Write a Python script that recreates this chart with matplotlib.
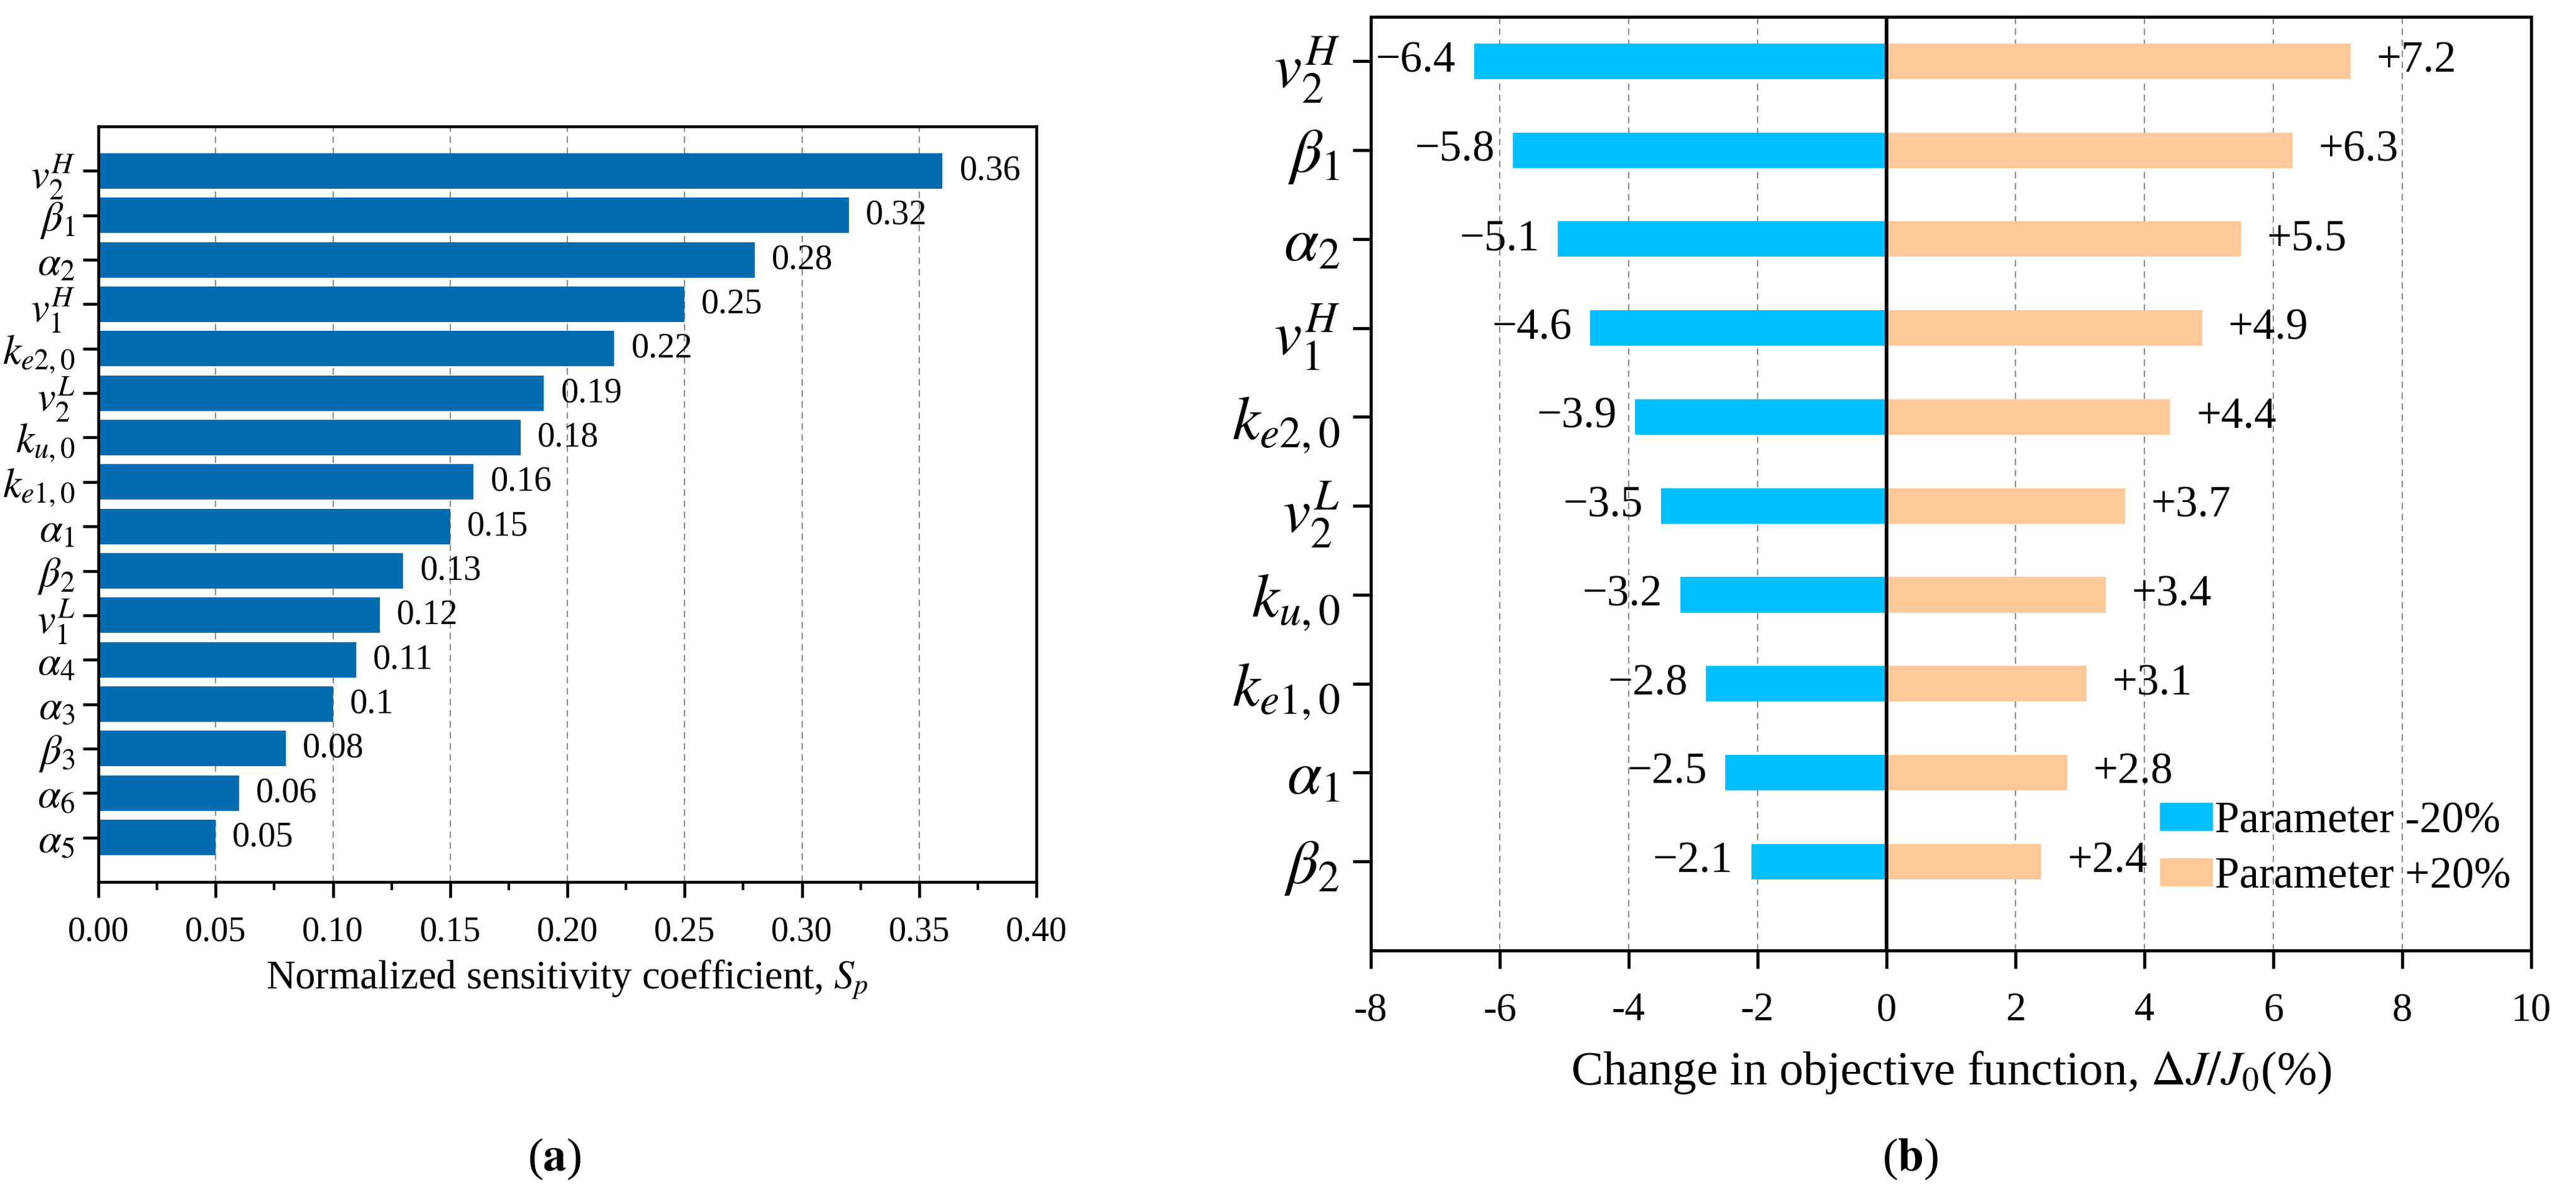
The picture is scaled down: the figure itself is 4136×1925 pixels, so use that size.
import matplotlib
matplotlib.use("Agg")
import matplotlib.pyplot as plt
from matplotlib.ticker import MultipleLocator

plt.rcParams['font.family'] = ['Liberation Serif', 'DejaVu Serif']
plt.rcParams['mathtext.fontset'] = 'stix'
plt.rcParams['axes.unicode_minus'] = False

# (a) normalized sensitivity coefficients
params_a = [r'$v_2^H$', r'$\beta_1$', r'$\alpha_2$', r'$v_1^H$', r'$k_{e2,0}$',
            r'$v_2^L$', r'$k_{u,0}$', r'$k_{e1,0}$', r'$\alpha_1$', r'$\beta_2$',
            r'$v_1^L$', r'$\alpha_4$', r'$\alpha_3$', r'$\beta_3$', r'$\alpha_6$',
            r'$\alpha_5$']
sens = [0.36, 0.32, 0.28, 0.25, 0.22, 0.19, 0.18, 0.16, 0.15, 0.13,
        0.12, 0.11, 0.10, 0.08, 0.06, 0.05]

# (b) change in objective function for +-20 % parameter change
params_b = [r'$v_2^H$', r'$\beta_1$', r'$\alpha_2$', r'$v_1^H$', r'$k_{e2,0}$',
            r'$v_2^L$', r'$k_{u,0}$', r'$k_{e1,0}$', r'$\alpha_1$', r'$\beta_2$']
minus20 = [-6.4, -5.8, -5.1, -4.6, -3.9, -3.5, -3.2, -2.8, -2.5, -2.1]
plus20 = [7.2, 6.3, 5.5, 4.9, 4.4, 3.7, 3.4, 3.1, 2.8, 2.4]

W, H = 4136, 1925
fig = plt.figure(figsize=(W / 300, H / 300), dpi=300)

grid_kw = dict(color='#8c8c8c', linestyle=(0, (5, 3.5)), linewidth=0.5)

# ---------- panel a ----------
ax1 = fig.add_axes([158 / W, 1 - 1416 / H, (1664 - 158) / W, (1416 - 203) / H])
ya = list(range(len(sens)))
ax1.barh(ya, sens, height=0.8, color='#036CB0', zorder=2)
ax1.set_ylim(len(sens), -1)
ax1.set_xlim(0, 0.40)
ax1.set_yticks(ya)
ax1.set_yticklabels(params_a, fontsize=16)
ax1.xaxis.set_major_locator(MultipleLocator(0.05))
ax1.xaxis.set_minor_locator(MultipleLocator(0.025))
ax1.set_xticklabels([f'{t:.2f}' for t in ax1.get_xticks()], fontsize=13.5)
ax1.tick_params(axis='x', which='major', direction='out', length=6, width=1.1, pad=7)
ax1.tick_params(axis='x', which='minor', direction='out', length=3, width=1.0)
ax1.tick_params(axis='y', direction='out', length=6, width=1.1, pad=3)
ax1.grid(axis='x', zorder=0, **grid_kw)
ax1.set_axisbelow(True)
for s in ax1.spines.values():
    s.set_linewidth(1.1)
for y, v in zip(ya, sens):
    ax1.annotate(f'{v:g}', (v, y), xytext=(6.5, 0), textcoords='offset points',
                 va='center', ha='left', fontsize=13.5)
ax1.set_xlabel(r'Normalized sensitivity coefficient, $S_p$', fontsize=15.5, labelpad=4)

# ---------- panel b ----------
ax2 = fig.add_axes([2201 / W, 1 - 1526 / H, (4064 - 2201) / W, (1526 - 27) / H])
yb = list(range(len(params_b)))
ax2.barh(yb, minus20, height=0.4, color='#00BFFF', label='Parameter -20%', zorder=2)
ax2.barh(yb, plus20, height=0.4, color='#FFC999', label='Parameter +20%', zorder=2)
ax2.axvline(0, color='black', linewidth=1.4, zorder=3)
ax2.set_ylim(len(params_b), -0.5)
ax2.set_xlim(-8, 10)
ax2.xaxis.set_major_locator(MultipleLocator(2))
ax2.set_yticks(yb)
ax2.set_yticklabels(params_b, fontsize=24)
ax2.tick_params(axis='x', labelsize=15.5, direction='out', length=7, width=1.2, pad=9)
ax2.tick_params(axis='y', direction='out', length=7, width=1.2, pad=5)
ax2.grid(axis='x', zorder=0, **grid_kw)
ax2.set_axisbelow(True)
for s in ax2.spines.values():
    s.set_linewidth(1.2)
for y, v in zip(yb, minus20):
    ax2.annotate(f'\u2212{abs(v):.1f}', (v, y), xytext=(-7, 0), textcoords='offset points',
                 va='center', ha='right', fontsize=17)
for y, v in zip(yb, plus20):
    ax2.annotate(f'+{v:.1f}', (v, y), xytext=(10, 0), textcoords='offset points',
                 va='center', ha='left', fontsize=17)
ax2.set_xlabel(r'Change in objective function, $\Delta J/J_0$(%)', fontsize=18.5, labelpad=8)
ax2.legend(loc='upper left', bbox_to_anchor=(0.68, 0.16), frameon=False, fontsize=17,
           borderaxespad=0, borderpad=0, handlelength=1.2, handleheight=0.6,
           handletextpad=0.05, labelspacing=0.35)

fig.text(890 / W, 1 - 1861 / H, r'($\mathbf{a}$)', ha='center', va='center', fontsize=18)
fig.text(3067 / W, 1 - 1861 / H, r'($\mathbf{b}$)', ha='center', va='center', fontsize=18)

fig.savefig('out.png', dpi=300)
